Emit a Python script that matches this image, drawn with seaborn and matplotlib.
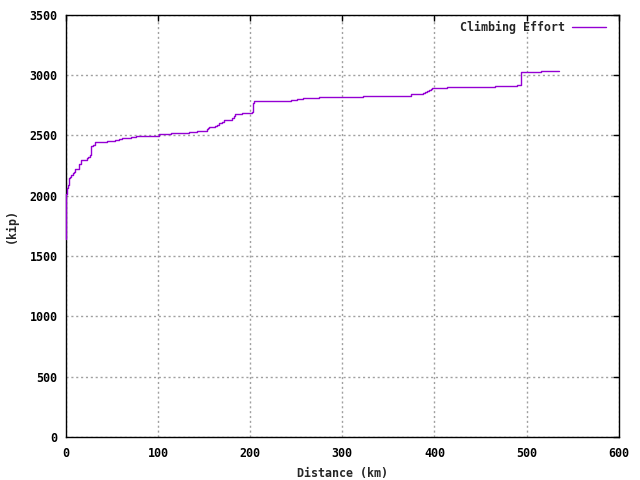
import pandas as pd
import matplotlib
matplotlib.use("Agg")
import matplotlib.pyplot as plt
import seaborn as sns

# step points (km, kip)
distance_km = [0, 0.3, 1.7, 2.8, 3.9, 4.7, 6.1, 8.2, 9.3, 10.4, 14.8, 16.3,
               22.8, 24.2, 26.4, 27.8, 29.9, 32.1, 45.1, 53.8, 58.1, 61.1,
               71.2, 76.2, 101.5, 113.9, 134.1, 142.7, 152.9, 154.3, 155.7,
               162.3, 164.4, 166.6, 169.5, 171.7, 177.4, 180.4, 182.5, 184.0,
               191.2, 202.3, 202.8, 204.2, 223.8, 244.7, 250.5, 257.0, 275.1,
               322.1, 374.2, 387.9, 390.0, 392.2, 394.4, 395.9, 397.3, 413.9,
               465.3, 489.8, 494.1, 515.8, 535.4]
effort_kip = [1640, 2013, 2065, 2088, 2143, 2157, 2168, 2185, 2193, 2218, 2262,
              2297, 2312, 2322, 2336, 2411, 2419, 2442, 2452, 2461, 2469, 2477,
              2486, 2496, 2508, 2519, 2527, 2535, 2549, 2563, 2568, 2577, 2587,
              2601, 2610, 2624, 2629, 2640, 2659, 2674, 2682, 2693, 2765, 2784,
              2786, 2795, 2803, 2811, 2819, 2828, 2839, 2848, 2856, 2864, 2875,
              2883, 2889, 2897, 2906, 2914, 3022, 3030, 3030]

df = pd.DataFrame({"Distance": distance_km, "Effort": effort_kip})

sns.set_style("white")
plt.rcParams["font.family"] = ["DejaVu Sans Mono"]
plt.rcParams["font.weight"] = "bold"

fig = plt.figure(figsize=(6.4, 4.8), dpi=100)
ax = fig.add_axes([0.1027, 0.0896, 0.8643, 0.88])

sns.lineplot(data=df, x="Distance", y="Effort", ax=ax, color="#9400d3",
             linewidth=1.0, drawstyle="steps-post", label="Climbing Effort",
             zorder=3, clip_on=False)

ax.set_xlim(0, 600)
ax.set_ylim(0, 3500)
ax.set_xticks(range(0, 601, 100))
ax.set_yticks(range(0, 3501, 500))
ax.grid(True, color="#a0a0a0", linestyle=(0, (1.5, 2.0)), linewidth=1.0)
for s in ax.spines.values():
    s.set_color("black")
    s.set_linewidth(1.0)
    s.set_zorder(2.5)
ax.tick_params(direction="in", length=4, width=1, top=True, right=True,
               labelsize=8.4, colors="black")
ax.tick_params(axis="x", pad=7)
ax.tick_params(axis="y", pad=6)
for lab in ax.get_xticklabels() + ax.get_yticklabels():
    lab.set_fontweight("bold")

ax.set_xlabel("Distance (km)", fontsize=8.4, fontweight="bold", labelpad=5)
ax.set_ylabel("(kip)", fontsize=8.4, fontweight="bold", labelpad=8)

leg = ax.legend(loc="upper right", bbox_to_anchor=(0.985, 0.997), frameon=False,
                prop={"size": 8.4, "weight": "bold"},
                handlelength=2.9, handletextpad=0.6, markerfirst=False,
                borderaxespad=0.0)

fig.savefig("out.png", dpi=100)
